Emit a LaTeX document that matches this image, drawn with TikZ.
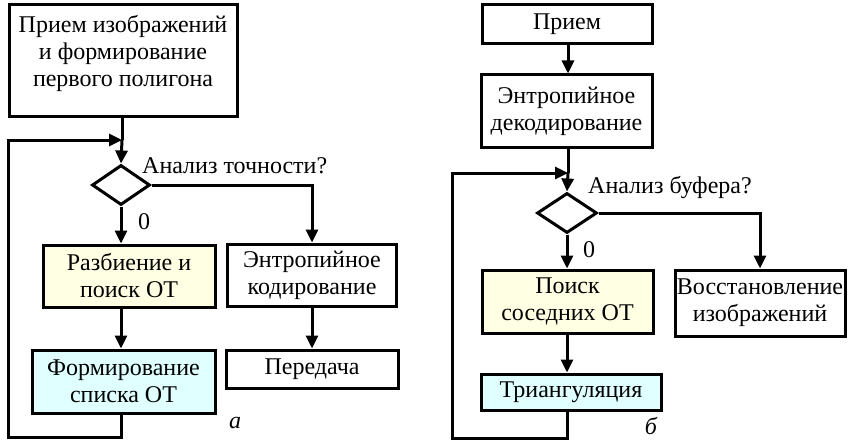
\documentclass[tikz,border=0pt]{standalone}
\usepackage{fontspec}
\setmainfont{Liberation Serif}
\usepackage{tikz}
\usetikzlibrary{calc}
\usetikzlibrary{shapes.geometric,arrows.meta}
\definecolor{boxyellow}{HTML}{FFFFE3}
\definecolor{boxcyan}{HTML}{E0FFFF}
\tikzset{
    blk/.style={draw, line width=3pt, inner sep=0pt, align=center,
        font=\fontsize{24}{27}\selectfont},
    choice/.style={draw, diamond, line width=3pt, inner sep=0pt,
        minimum width=58pt, minimum height=40pt},
    flow/.style={line width=3pt, -{Triangle[length=13pt,width=12pt]}},
    link/.style={line width=3pt},
    lbl/.style={font=\fontsize{24}{27}\selectfont, inner sep=0pt}
}

\begin{document}
\begin{tikzpicture}[x=1pt,y=-1pt]
\useasboundingbox (0,0) rectangle (848,441);
% left chart
\node[blk, minimum width=228, minimum height=112] (recv) at (123,61) {};
\node[lbl, align=center, anchor=north] (recvtxt) at ($(recv.north)+(0,12)$)
    {Прием изображений\\и формирование\\первого полигона};
\coordinate (jA) at (122,140);
\node[choice] (chkA) at (121,185) {};
\node[lbl, anchor=west] (qA) at (142,166) {Анализ точности?};
\node[blk, fill=boxyellow, minimum width=172, minimum height=62] (split) at (129,276)
    {Разбиение и\\поиск ОТ};
\node[blk, fill=boxcyan, minimum width=183, minimum height=63] (list) at (123.5,381.5)
    {Формирование\\списка ОТ};
\node[blk, minimum width=169, minimum height=62] (enc) at (312,275)
    {Энтропийное\\кодирование};
\node[blk, minimum width=172, minimum height=38] (send) at (312,369) {Передача};
\node[lbl] (zA) at (144,222) {0};
\node[lbl, font=\fontsize{24}{27}\selectfont\itshape] (capA) at (235,423) {а};
\coordinate (loopA) at (8,437);

\draw[link] (recv.south -| jA) -- (jA);
\draw[flow] (jA) -- (chkA.north);
\draw[flow] (chkA.south) -- (chkA.south |- split.north);
\draw[flow] (chkA.south |- split.south) -- (chkA.south |- list.north);
\draw[flow] (chkA.east) -| (enc.north);
\draw[flow] (enc.south) -- (send.north);
\draw[flow] (chkA.south |- list.south) |- (loopA) |- (jA);

% right chart
\node[blk, minimum width=170, minimum height=39] (recvB) at (567,24.5) {Прием};
\node[blk, minimum width=171, minimum height=72] (dec) at (566.5,111)
    {Энтропийное\\декодирование};
\coordinate (jB) at (568,173);
\node[choice, minimum width=60pt] (chkB) at (567,213) {};
\node[lbl, anchor=west] (qB) at (588,187) {Анализ буфера?};
\node[blk, fill=boxyellow, minimum width=171, minimum height=63] (near) at (567.5,301.5)
    {Поиск\\соседних ОТ};
\node[blk, fill=boxcyan, minimum width=180, minimum height=36] (tri) at (571,392)
    {Триангуляция};
\node[blk, minimum width=170, minimum height=66] (rest) at (760,303)
    {Восстановление\\изображений};
\node[lbl] (zB) at (589,250) {0};
\node[lbl, font=\fontsize{24}{27}\selectfont\itshape] (capB) at (651,426) {б};
\coordinate (loopB) at (452,438);

\draw[flow] (recvB.south -| jB) -- (dec.north -| jB);
\draw[link] (dec.south -| jB) -- (jB);
\draw[flow] (jB) -- (chkB.north);
\draw[flow] (chkB.south) -- (chkB.south |- near.north);
\draw[flow] (chkB.south |- near.south) -- (chkB.south |- tri.north);
\draw[flow] (chkB.east) -| (rest.north);
\draw[flow] (chkB.south |- tri.south) |- (loopB) |- (jB);
\end{tikzpicture}
\end{document}
